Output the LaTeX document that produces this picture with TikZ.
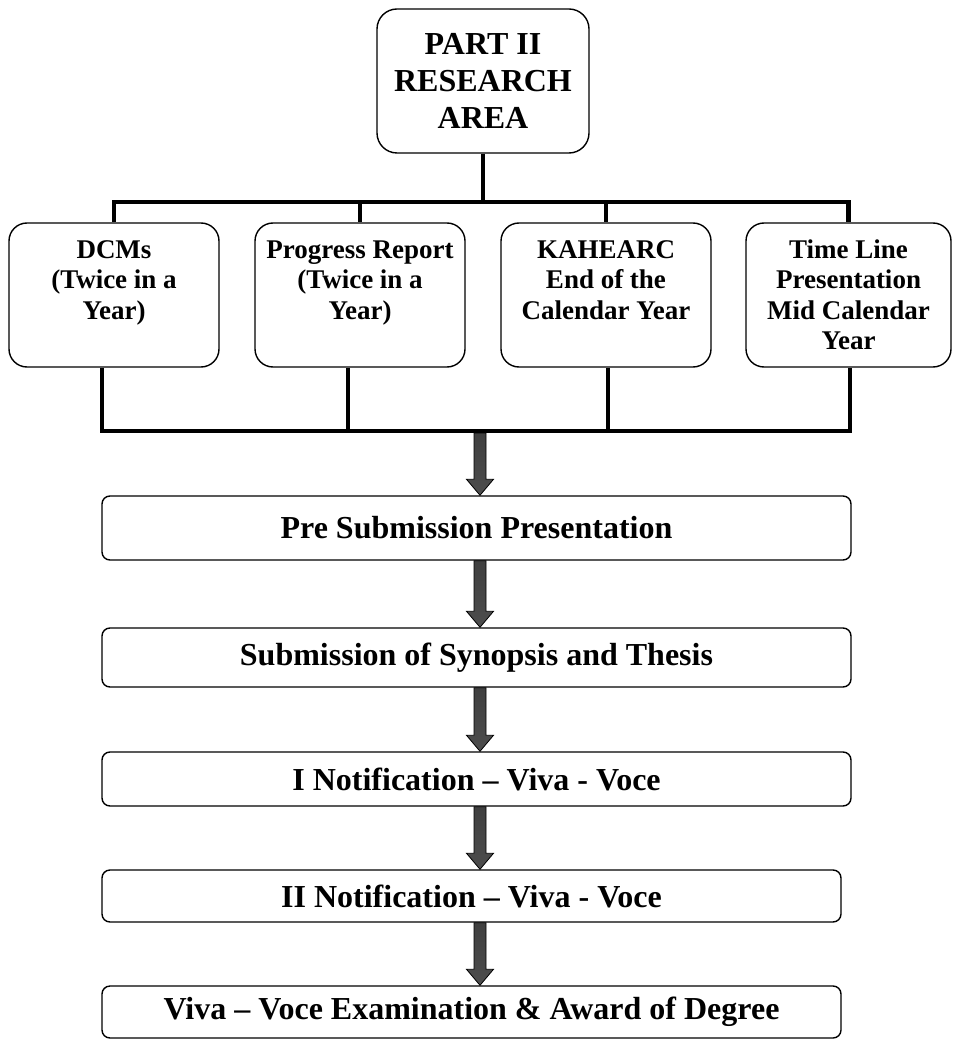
\documentclass[tikz,border=0pt]{standalone}
\usepackage{fontspec}
\setmainfont{Liberation Serif}
\usetikzlibrary{calc}

\newcommand\flowarrow[2]{%
  \path[arrowfill] let \p1=(ax |- #1), \p2=(ax |- #2) in
    (\x1-6pt,\y1) -- (\x1+6pt,\y1) -- (\x1+6pt,\y2+16pt) -- (\x1+13.5pt,\y2+16pt)
    -- (\x1,\y2) -- (\x1-13.5pt,\y2+16pt) -- (\x1-6pt,\y2+16pt) -- cycle;}

\begin{document}
\begin{tikzpicture}
[x=1pt,y=-1pt,every node/.style={draw,line width=1.4pt,align=flush center},
 headbox/.style={rounded corners=20pt,minimum width=212pt,minimum height=144pt,inner sep=0pt,font=\fontsize{32}{37}\selectfont\bfseries},
 midbox/.style={rounded corners=18pt,text width=200pt,inner xsep=5pt,inner ysep=0pt,text height=36pt,text depth=108pt,font=\fontsize{27}{30}\selectfont\bfseries},
 stepbox/.style={rounded corners=8pt,inner sep=0pt,font=\fontsize{32}{36}\selectfont\bfseries},
 bar/.style={line width=4.5pt},
 arrowfill/.style={draw=black,line width=0.8pt,top color=black!75,middle color=gray!55,bottom color=black!70}]

  \useasboundingbox (0,0) rectangle (953,1040);

  \node[headbox] (area) at (483,81) {PART II\\RESEARCH\\AREA};

  \node[midbox] (dcm) at (114,295) {DCMs\\(Twice in a\\Year)};
  \node[midbox] (prog) at (360,295) {Progress Report\\(Twice in a\\Year)};
  \node[midbox] (kahe) at (606,295) {KAHEARC\\End of the\\Calendar Year};
  \node[midbox,text width=195pt] (time) at (848.5,295) {Time Line\\Presentation\\Mid Calendar\\Year};

  \node[stepbox,minimum width=749pt,minimum height=64pt] (pre) at (476.5,528) {Pre Submission Presentation};
  \node[stepbox,minimum width=749pt,minimum height=59pt] (syn) at (476.5,657.5) {Submission of Synopsis and Thesis};
  \node[stepbox,minimum width=749pt,minimum height=54pt] (note1) at (476.5,779) {I Notification – Viva - Voce};
  \node[stepbox,minimum width=739pt,minimum height=52pt] (note2) at (471.5,896) {II Notification – Viva - Voce};
  \node[stepbox,minimum width=739pt,minimum height=52pt] (viva) at (471.5,1012) {Viva – Voce Examination \& Award of Degree};

  \coordinate (ub) at (483,202);
  \coordinate (l1) at (102,431);
  \coordinate (l2) at (348,431);
  \coordinate (l3) at (608,431);
  \coordinate (l4) at (850,431);
  \coordinate (lb) at (480,433);
  \coordinate (ax) at (480,0);

  % upper tree
  \draw[bar] (area.south) -- (area.south |- ub);
  \draw[bar] (dcm.north) -- (dcm.north |- ub) -- (time.north |- ub) -- (time.north);
  \foreach \b in {prog,kahe}
    \draw[bar] (\b.north |- ub) -- (\b.north);

  % lower tree
  \draw[bar] (l1 |- dcm.south) -- (l1) -- (l4) -- (l4 |- time.south);
  \foreach \l/\b in {l2/prog,l3/kahe}
    \draw[bar] (\l |- \b.south) -- (\l);

  \flowarrow{lb}{pre.north}
  \foreach \from/\to in {pre/syn,syn/note1,note1/note2,note2/viva}
    \flowarrow{\from.south}{\to.north};
\end{tikzpicture}
\end{document}
